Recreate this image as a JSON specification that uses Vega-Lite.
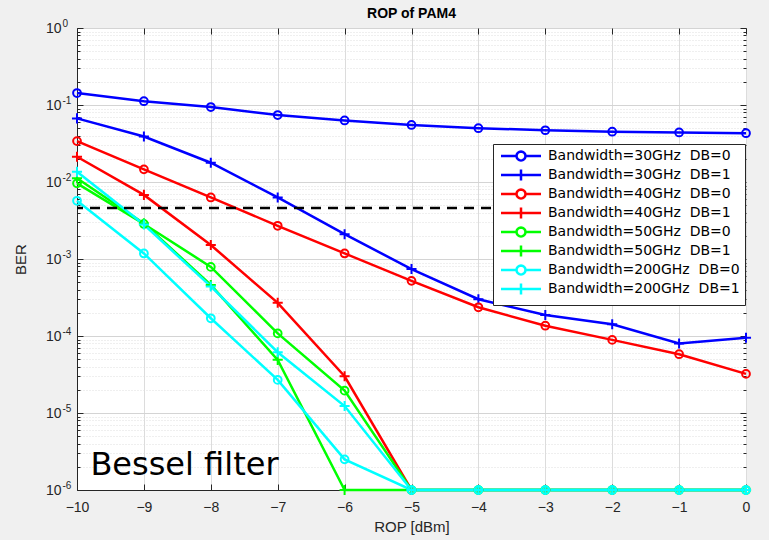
{
  "$schema": "https://vega.github.io/schema/vega-lite/v6.json",
  "width": 669,
  "height": 462,
  "autosize": {"type": "none"},
  "padding": {"left": 77, "top": 28, "right": 23, "bottom": 50},
  "background": "#f0f0f0",
  "title": {"text": "ROP of PAM4", "fontSize": 14, "fontWeight": "bold", "font": "Liberation Sans", "color": "#000000", "offset": 8, "dy": 11, "frame": "group"},
  "config": {
    "font": "Liberation Sans",
    "view": {"fill": "white", "stroke": "#262626", "strokeWidth": 1},
    "legend": {
      "orient": "none", "legendX": 416, "legendY": 116,
      "fillColor": "white", "strokeColor": "#262626", "padding": 5,
      "labelFontSize": 14, "labelFont": "DejaVu Sans", "labelColor": "#000000",
      "symbolSize": 64, "symbolStrokeWidth": 2.5, "symbolOffset": 16, "labelOffset": 20,
      "rowPadding": -2, "symbolOpacity": 1, "labelLimit": 400
    }
  },
  "datasets": {
    "ber": [
      {"r": -10, "b": 0.143, "s": "Bandwidth=30GHz\u00a0 DB=0"},
      {"r": -9, "b": 0.112, "s": "Bandwidth=30GHz\u00a0 DB=0"},
      {"r": -8, "b": 0.094, "s": "Bandwidth=30GHz\u00a0 DB=0"},
      {"r": -7, "b": 0.074, "s": "Bandwidth=30GHz\u00a0 DB=0"},
      {"r": -6, "b": 0.063, "s": "Bandwidth=30GHz\u00a0 DB=0"},
      {"r": -5, "b": 0.055, "s": "Bandwidth=30GHz\u00a0 DB=0"},
      {"r": -4, "b": 0.050, "s": "Bandwidth=30GHz\u00a0 DB=0"},
      {"r": -3, "b": 0.047, "s": "Bandwidth=30GHz\u00a0 DB=0"},
      {"r": -2, "b": 0.045, "s": "Bandwidth=30GHz\u00a0 DB=0"},
      {"r": -1, "b": 0.044, "s": "Bandwidth=30GHz\u00a0 DB=0"},
      {"r": 0, "b": 0.043, "s": "Bandwidth=30GHz\u00a0 DB=0"},
      {"r": -10, "b": 0.067, "s": "Bandwidth=30GHz\u00a0 DB=1"},
      {"r": -9, "b": 0.039, "s": "Bandwidth=30GHz\u00a0 DB=1"},
      {"r": -8, "b": 0.0178, "s": "Bandwidth=30GHz\u00a0 DB=1"},
      {"r": -7, "b": 0.0063, "s": "Bandwidth=30GHz\u00a0 DB=1"},
      {"r": -6, "b": 0.0021, "s": "Bandwidth=30GHz\u00a0 DB=1"},
      {"r": -5, "b": 0.00074, "s": "Bandwidth=30GHz\u00a0 DB=1"},
      {"r": -4, "b": 0.0003, "s": "Bandwidth=30GHz\u00a0 DB=1"},
      {"r": -3, "b": 0.000187, "s": "Bandwidth=30GHz\u00a0 DB=1"},
      {"r": -2, "b": 0.000142, "s": "Bandwidth=30GHz\u00a0 DB=1"},
      {"r": -1, "b": 0.00008, "s": "Bandwidth=30GHz\u00a0 DB=1"},
      {"r": 0, "b": 0.000095, "s": "Bandwidth=30GHz\u00a0 DB=1"},
      {"r": -10, "b": 0.034, "s": "Bandwidth=40GHz\u00a0 DB=0"},
      {"r": -9, "b": 0.0146, "s": "Bandwidth=40GHz\u00a0 DB=0"},
      {"r": -8, "b": 0.0063, "s": "Bandwidth=40GHz\u00a0 DB=0"},
      {"r": -7, "b": 0.0027, "s": "Bandwidth=40GHz\u00a0 DB=0"},
      {"r": -6, "b": 0.00118, "s": "Bandwidth=40GHz\u00a0 DB=0"},
      {"r": -5, "b": 0.00052, "s": "Bandwidth=40GHz\u00a0 DB=0"},
      {"r": -4, "b": 0.000236, "s": "Bandwidth=40GHz\u00a0 DB=0"},
      {"r": -3, "b": 0.000136, "s": "Bandwidth=40GHz\u00a0 DB=0"},
      {"r": -2, "b": 0.000089, "s": "Bandwidth=40GHz\u00a0 DB=0"},
      {"r": -1, "b": 0.000058, "s": "Bandwidth=40GHz\u00a0 DB=0"},
      {"r": 0, "b": 0.0000322, "s": "Bandwidth=40GHz\u00a0 DB=0"},
      {"r": -10, "b": 0.0213, "s": "Bandwidth=40GHz\u00a0 DB=1"},
      {"r": -9, "b": 0.0068, "s": "Bandwidth=40GHz\u00a0 DB=1"},
      {"r": -8, "b": 0.00152, "s": "Bandwidth=40GHz\u00a0 DB=1"},
      {"r": -7, "b": 0.00027, "s": "Bandwidth=40GHz\u00a0 DB=1"},
      {"r": -6, "b": 0.00003, "s": "Bandwidth=40GHz\u00a0 DB=1"},
      {"r": -5, "b": 0.000001, "s": "Bandwidth=40GHz\u00a0 DB=1"},
      {"r": -4, "b": 0.000001, "s": "Bandwidth=40GHz\u00a0 DB=1"},
      {"r": -3, "b": 0.000001, "s": "Bandwidth=40GHz\u00a0 DB=1"},
      {"r": -2, "b": 0.000001, "s": "Bandwidth=40GHz\u00a0 DB=1"},
      {"r": -1, "b": 0.000001, "s": "Bandwidth=40GHz\u00a0 DB=1"},
      {"r": 0, "b": 0.000001, "s": "Bandwidth=40GHz\u00a0 DB=1"},
      {"r": -10, "b": 0.0096, "s": "Bandwidth=50GHz\u00a0 DB=0"},
      {"r": -9, "b": 0.00285, "s": "Bandwidth=50GHz\u00a0 DB=0"},
      {"r": -8, "b": 0.00079, "s": "Bandwidth=50GHz\u00a0 DB=0"},
      {"r": -7, "b": 0.000108, "s": "Bandwidth=50GHz\u00a0 DB=0"},
      {"r": -6, "b": 0.0000195, "s": "Bandwidth=50GHz\u00a0 DB=0"},
      {"r": -5, "b": 0.000001, "s": "Bandwidth=50GHz\u00a0 DB=0"},
      {"r": -4, "b": 0.000001, "s": "Bandwidth=50GHz\u00a0 DB=0"},
      {"r": -3, "b": 0.000001, "s": "Bandwidth=50GHz\u00a0 DB=0"},
      {"r": -2, "b": 0.000001, "s": "Bandwidth=50GHz\u00a0 DB=0"},
      {"r": -1, "b": 0.000001, "s": "Bandwidth=50GHz\u00a0 DB=0"},
      {"r": 0, "b": 0.000001, "s": "Bandwidth=50GHz\u00a0 DB=0"},
      {"r": -10, "b": 0.0112, "s": "Bandwidth=50GHz\u00a0 DB=1"},
      {"r": -9, "b": 0.0029, "s": "Bandwidth=50GHz\u00a0 DB=1"},
      {"r": -8, "b": 0.00046, "s": "Bandwidth=50GHz\u00a0 DB=1"},
      {"r": -7, "b": 0.000049, "s": "Bandwidth=50GHz\u00a0 DB=1"},
      {"r": -6, "b": 0.000001, "s": "Bandwidth=50GHz\u00a0 DB=1"},
      {"r": -5, "b": 0.000001, "s": "Bandwidth=50GHz\u00a0 DB=1"},
      {"r": -4, "b": 0.000001, "s": "Bandwidth=50GHz\u00a0 DB=1"},
      {"r": -3, "b": 0.000001, "s": "Bandwidth=50GHz\u00a0 DB=1"},
      {"r": -2, "b": 0.000001, "s": "Bandwidth=50GHz\u00a0 DB=1"},
      {"r": -1, "b": 0.000001, "s": "Bandwidth=50GHz\u00a0 DB=1"},
      {"r": 0, "b": 0.000001, "s": "Bandwidth=50GHz\u00a0 DB=1"},
      {"r": -10, "b": 0.0057, "s": "Bandwidth=200GHz\u00a0 DB=0"},
      {"r": -9, "b": 0.00118, "s": "Bandwidth=200GHz\u00a0 DB=0"},
      {"r": -8, "b": 0.00017, "s": "Bandwidth=200GHz\u00a0 DB=0"},
      {"r": -7, "b": 0.0000269, "s": "Bandwidth=200GHz\u00a0 DB=0"},
      {"r": -6, "b": 0.0000025, "s": "Bandwidth=200GHz\u00a0 DB=0"},
      {"r": -5, "b": 0.000001, "s": "Bandwidth=200GHz\u00a0 DB=0"},
      {"r": -4, "b": 0.000001, "s": "Bandwidth=200GHz\u00a0 DB=0"},
      {"r": -3, "b": 0.000001, "s": "Bandwidth=200GHz\u00a0 DB=0"},
      {"r": -2, "b": 0.000001, "s": "Bandwidth=200GHz\u00a0 DB=0"},
      {"r": -1, "b": 0.000001, "s": "Bandwidth=200GHz\u00a0 DB=0"},
      {"r": 0, "b": 0.000001, "s": "Bandwidth=200GHz\u00a0 DB=0"},
      {"r": -10, "b": 0.0136, "s": "Bandwidth=200GHz\u00a0 DB=1"},
      {"r": -9, "b": 0.0028, "s": "Bandwidth=200GHz\u00a0 DB=1"},
      {"r": -8, "b": 0.00044, "s": "Bandwidth=200GHz\u00a0 DB=1"},
      {"r": -7, "b": 0.0000616, "s": "Bandwidth=200GHz\u00a0 DB=1"},
      {"r": -6, "b": 0.0000123, "s": "Bandwidth=200GHz\u00a0 DB=1"},
      {"r": -5, "b": 0.000001, "s": "Bandwidth=200GHz\u00a0 DB=1"},
      {"r": -4, "b": 0.000001, "s": "Bandwidth=200GHz\u00a0 DB=1"},
      {"r": -3, "b": 0.000001, "s": "Bandwidth=200GHz\u00a0 DB=1"},
      {"r": -2, "b": 0.000001, "s": "Bandwidth=200GHz\u00a0 DB=1"},
      {"r": -1, "b": 0.000001, "s": "Bandwidth=200GHz\u00a0 DB=1"},
      {"r": 0, "b": 0.000001, "s": "Bandwidth=200GHz\u00a0 DB=1"}
    ],
    "thr": [{"b": 0.0046}],
    "note": [{"r": -9.8, "b": 0.00000157, "label": "Bessel filter"}]
  },
  "resolve": {
    "scale": {"color": "independent", "shape": "independent"},
    "axis": {"x": "independent", "y": "independent"}
  },
  "layer": [
    {
      "data": {"name": "ber"},
      "mark": {"type": "line", "strokeWidth": 2.5},
      "encoding": {
        "x": {
          "field": "r", "type": "quantitative",
          "scale": {"domain": [-10, 0], "nice": false, "zero": false},
          "axis": {
            "orient": "bottom", "values": [-10, -9, -8, -7, -6, -5, -4, -3, -2, -1, 0],
            "title": "ROP [dBm]", "titleFontSize": 15, "titleFontWeight": "normal", "titleColor": "#262626", "titlePadding": 5,
            "labelFontSize": 14, "labelColor": "#262626", "labelPadding": 16, "labelFlush": false,
            "tickSize": -6, "tickColor": "#262626", "domainColor": "#262626",
            "grid": true, "gridColor": "#dcdcdc", "gridWidth": 1
          }
        },
        "y": {
          "field": "b", "type": "quantitative",
          "scale": {"type": "log", "domain": [0.000001, 1], "nice": false},
          "axis": {
            "orient": "left",
            "values": [0.000001, 0.000002, 0.000003, 0.000004, 0.000005, 0.000006, 0.000007, 0.000008, 0.000009,
                       0.00001, 0.00002, 0.00003, 0.00004, 0.00005, 0.00006, 0.00007, 0.00008, 0.00009,
                       0.0001, 0.0002, 0.0003, 0.0004, 0.0005, 0.0006, 0.0007, 0.0008, 0.0009,
                       0.001, 0.002, 0.003, 0.004, 0.005, 0.006, 0.007, 0.008, 0.009,
                       0.01, 0.02, 0.03, 0.04, 0.05, 0.06, 0.07, 0.08, 0.09,
                       0.1, 0.2, 0.3, 0.4, 0.5, 0.6, 0.7, 0.8, 0.9, 1],
            "labelExpr": "abs(log(datum.value)/LN10 - round(log(datum.value)/LN10)) < 0.01 ? '10' : ''",
            "labelFontSize": 14, "labelColor": "#262626", "labelPadding": 22,
            "title": "BER", "titleFontSize": 15, "titleFontWeight": "normal", "titleColor": "#262626",
            "titleX": -57, "titleY": 231, "titleAngle": -90, "titleAlign": "center", "titleBaseline": "middle",
            "tickColor": "#262626", "domainColor": "#262626",
            "tickSize": {"condition": {"test": "abs(log(datum.value)/LN10 - round(log(datum.value)/LN10)) < 0.01", "value": -6}, "value": -3},
            "grid": true,
            "gridColor": {"condition": {"test": "abs(log(datum.value)/LN10 - round(log(datum.value)/LN10)) < 0.01", "value": "#d4d4d4"}, "value": "#dedede"},
            "gridDash": {"condition": {"test": "abs(log(datum.value)/LN10 - round(log(datum.value)/LN10)) < 0.01", "value": []}, "value": [1, 2]}
          }
        },
        "color": {
          "field": "s", "type": "nominal", "legend": null,
          "scale": {
            "domain": ["Bandwidth=30GHz\u00a0 DB=0", "Bandwidth=30GHz\u00a0 DB=1", "Bandwidth=40GHz\u00a0 DB=0", "Bandwidth=40GHz\u00a0 DB=1", "Bandwidth=50GHz\u00a0 DB=0", "Bandwidth=50GHz\u00a0 DB=1", "Bandwidth=200GHz\u00a0 DB=0", "Bandwidth=200GHz\u00a0 DB=1"],
            "range": ["#0000ff", "#0000ff", "#ff0000", "#ff0000", "#00ff00", "#00ff00", "#00ffff", "#00ffff"]
          }
        }
      }
    },
    {
      "data": {"name": "ber"},
      "mark": {"type": "point", "filled": false, "strokeWidth": 2, "size": 60, "opacity": 1},
      "encoding": {
        "x": {"field": "r", "type": "quantitative", "axis": null},
        "y": {"field": "b", "type": "quantitative", "axis": null},
        "color": {
          "field": "s", "type": "nominal", "legend": null,
          "scale": {
            "domain": ["Bandwidth=30GHz\u00a0 DB=0", "Bandwidth=30GHz\u00a0 DB=1", "Bandwidth=40GHz\u00a0 DB=0", "Bandwidth=40GHz\u00a0 DB=1", "Bandwidth=50GHz\u00a0 DB=0", "Bandwidth=50GHz\u00a0 DB=1", "Bandwidth=200GHz\u00a0 DB=0", "Bandwidth=200GHz\u00a0 DB=1"],
            "range": ["#0000ff", "#0000ff", "#ff0000", "#ff0000", "#00ff00", "#00ff00", "#00ffff", "#00ffff"]
          }
        },
        "shape": {
          "field": "s", "type": "nominal", "legend": null,
          "scale": {
            "domain": ["Bandwidth=30GHz\u00a0 DB=0", "Bandwidth=30GHz\u00a0 DB=1", "Bandwidth=40GHz\u00a0 DB=0", "Bandwidth=40GHz\u00a0 DB=1", "Bandwidth=50GHz\u00a0 DB=0", "Bandwidth=50GHz\u00a0 DB=1", "Bandwidth=200GHz\u00a0 DB=0", "Bandwidth=200GHz\u00a0 DB=1"],
            "range": ["circle", "M-1.3,0H1.3M0,-1.3V1.3", "circle", "M-1.3,0H1.3M0,-1.3V1.3", "circle", "M-1.3,0H1.3M0,-1.3V1.3", "circle", "M-1.3,0H1.3M0,-1.3V1.3"]
          }
        }
      }
    },
    {
      "data": {"name": "thr"},
      "mark": {"type": "rule", "color": "#000000", "strokeWidth": 2.5, "strokeDash": [10, 7]},
      "encoding": {
        "y": {
          "field": "b", "type": "quantitative",
          "axis": {
            "orient": "left", "ticks": false, "domain": false, "grid": false, "title": null,
            "values": [0.000001, 0.00001, 0.0001, 0.001, 0.01, 0.1, 1],
            "labelExpr": "'' + round(log(datum.value)/LN10)",
            "labelFontSize": 10, "labelColor": "#262626", "labelAlign": "left", "labelPadding": 15, "labelOffset": -5
          }
        }
      }
    },
    {
      "data": {"name": "note"},
      "mark": {"type": "text", "fontSize": 32, "font": "DejaVu Sans", "align": "left", "baseline": "alphabetic", "color": "#000000"},
      "encoding": {
        "x": {"field": "r", "type": "quantitative", "axis": null},
        "y": {"field": "b", "type": "quantitative", "axis": null},
        "text": {"field": "label"}
      }
    },
    {
      "data": {"name": "ber"},
      "mark": {"type": "point", "filled": false, "opacity": 0, "strokeWidth": 2.5},
      "encoding": {
        "x": {
          "field": "r", "type": "quantitative",
          "axis": {"orient": "top", "values": [-10, -9, -8, -7, -6, -5, -4, -3, -2, -1, 0], "labels": false, "grid": false, "domain": false, "tickSize": -6, "tickColor": "#262626", "title": null}
        },
        "y": {
          "field": "b", "type": "quantitative",
          "axis": {
            "orient": "right", "labels": false, "grid": false, "domain": false, "title": null, "tickColor": "#262626",
            "values": [0.000001, 0.000002, 0.000003, 0.000004, 0.000005, 0.000006, 0.000007, 0.000008, 0.000009,
                       0.00001, 0.00002, 0.00003, 0.00004, 0.00005, 0.00006, 0.00007, 0.00008, 0.00009,
                       0.0001, 0.0002, 0.0003, 0.0004, 0.0005, 0.0006, 0.0007, 0.0008, 0.0009,
                       0.001, 0.002, 0.003, 0.004, 0.005, 0.006, 0.007, 0.008, 0.009,
                       0.01, 0.02, 0.03, 0.04, 0.05, 0.06, 0.07, 0.08, 0.09,
                       0.1, 0.2, 0.3, 0.4, 0.5, 0.6, 0.7, 0.8, 0.9, 1],
            "tickSize": {"condition": {"test": "abs(log(datum.value)/LN10 - round(log(datum.value)/LN10)) < 0.01", "value": -6}, "value": -3}
          }
        },
        "color": {
          "field": "s", "type": "nominal", "legend": {"title": null},
          "scale": {
            "domain": ["Bandwidth=30GHz\u00a0 DB=0", "Bandwidth=30GHz\u00a0 DB=1", "Bandwidth=40GHz\u00a0 DB=0", "Bandwidth=40GHz\u00a0 DB=1", "Bandwidth=50GHz\u00a0 DB=0", "Bandwidth=50GHz\u00a0 DB=1", "Bandwidth=200GHz\u00a0 DB=0", "Bandwidth=200GHz\u00a0 DB=1"],
            "range": ["#0000ff", "#0000ff", "#ff0000", "#ff0000", "#00ff00", "#00ff00", "#00ffff", "#00ffff"]
          }
        },
        "shape": {
          "field": "s", "type": "nominal", "legend": {"title": null},
          "scale": {
            "domain": ["Bandwidth=30GHz\u00a0 DB=0", "Bandwidth=30GHz\u00a0 DB=1", "Bandwidth=40GHz\u00a0 DB=0", "Bandwidth=40GHz\u00a0 DB=1", "Bandwidth=50GHz\u00a0 DB=0", "Bandwidth=50GHz\u00a0 DB=1", "Bandwidth=200GHz\u00a0 DB=0", "Bandwidth=200GHz\u00a0 DB=1"],
            "range": [
              "M-5,0H-1.125M1.125,0H5M1.125,0L1.039,0.43L0.795,0.795L0.43,1.039L0,1.125L-0.43,1.039L-0.795,0.795L-1.039,0.43L-1.125,0L-1.039,-0.43L-0.795,-0.795L-0.43,-1.039L0,-1.125L0.43,-1.039L0.795,-0.795L1.039,-0.43Z", "M-5,0H5M0,-1.375V1.375",
              "M-5,0H-1.125M1.125,0H5M1.125,0L1.039,0.43L0.795,0.795L0.43,1.039L0,1.125L-0.43,1.039L-0.795,0.795L-1.039,0.43L-1.125,0L-1.039,-0.43L-0.795,-0.795L-0.43,-1.039L0,-1.125L0.43,-1.039L0.795,-0.795L1.039,-0.43Z", "M-5,0H5M0,-1.375V1.375",
              "M-5,0H-1.125M1.125,0H5M1.125,0L1.039,0.43L0.795,0.795L0.43,1.039L0,1.125L-0.43,1.039L-0.795,0.795L-1.039,0.43L-1.125,0L-1.039,-0.43L-0.795,-0.795L-0.43,-1.039L0,-1.125L0.43,-1.039L0.795,-0.795L1.039,-0.43Z", "M-5,0H5M0,-1.375V1.375",
              "M-5,0H-1.125M1.125,0H5M1.125,0L1.039,0.43L0.795,0.795L0.43,1.039L0,1.125L-0.43,1.039L-0.795,0.795L-1.039,0.43L-1.125,0L-1.039,-0.43L-0.795,-0.795L-0.43,-1.039L0,-1.125L0.43,-1.039L0.795,-0.795L1.039,-0.43Z", "M-5,0H5M0,-1.375V1.375"
            ]
          }
        }
      }
    }
  ]
}
